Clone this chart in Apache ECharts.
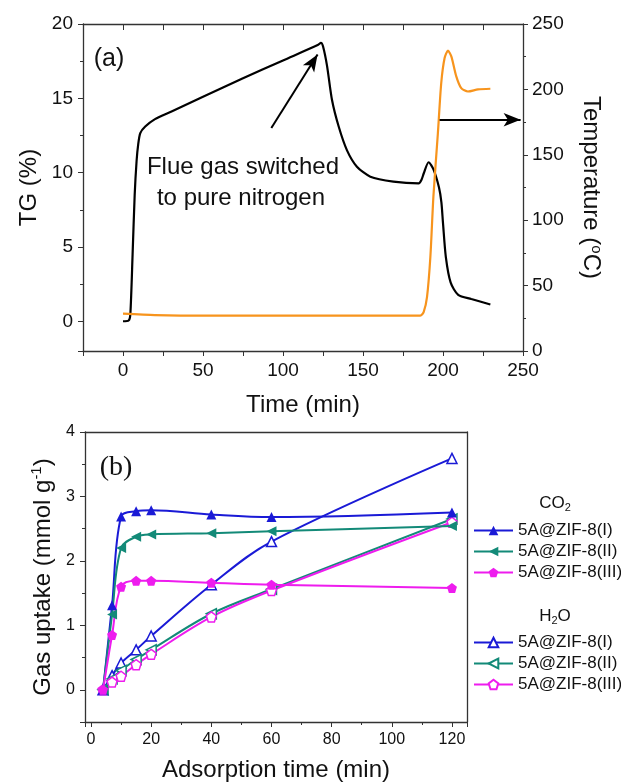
<!DOCTYPE html>
<html>
<head>
<meta charset="utf-8">
<title>TG and gas uptake</title>
<script src="https://cdn.jsdelivr.net/npm/echarts@6/dist/echarts.min.js"></script>
<style>
  html, body { margin: 0; padding: 0; background: #fff; }
  #chart { width: 621px; height: 783px; }
</style>
</head>
<body>
<div id="chart"></div>
<script>
// ---- panel (a): TG trace (left axis) and temperature trace (right axis)
const tgTime = [0, 3.5, 4.6, 6, 7.3, 8.5, 9.5, 10.8, 13.9, 20, 30, 50, 75, 100,
  122, 123.7, 125, 127.5, 130.6, 134.8, 140, 146.2, 154.6, 169, 184.8, 186.5, 188, 191,
  194.1, 197.5, 199, 200, 201.8, 204.8, 209.5, 217.7, 229.6];
const tgValue = [0, 0.05, 0.5, 4.5, 8.5, 10.8, 11.9, 12.66, 13.1, 13.6, 14.1, 15.1, 16.35, 17.55,
  18.6, 18.74, 18.5, 17.2, 14.9, 13.1, 11.5, 10.4, 9.73, 9.4, 9.28, 9.5, 9.96, 10.7,
  10.2, 9.0, 8.0, 6.6, 4.3, 2.6, 1.78, 1.5, 1.13];

const tempTime = [0, 20, 50, 120, 185.8, 187.9, 190, 192.1, 194, 196.8, 198.9, 201, 203.1,
  205.2, 208.3, 211.4, 215.6, 221.9, 229.6];
const tempValue = [28.5, 27.5, 27, 27, 27, 29.7, 41.2, 71.9, 118, 166.5, 204.9, 224, 229.6,
  225.3, 210, 201, 198.4, 200, 200.5];

// annotation arrows, [start, end] in (time, TG) units
const arrowSwitch = [[92.7, 13.0], [121.6, 17.95]];
const arrowTemp = [[197.9, 13.56], [248.5, 13.56]];

// ---- panel (b): adsorption uptake
const adsTime = [4, 7, 10, 15, 20, 40, 60, 120];
const sampleNames = ['5A@ZIF-8(I)', '5A@ZIF-8(II)', '5A@ZIF-8(III)'];
const co2I = [0, 1.31, 2.69, 2.77, 2.785, 2.72, 2.68, 2.75];
const co2II = [0, 1.17, 2.2, 2.375, 2.41, 2.43, 2.46, 2.54];
const co2III = [0, 0.85, 1.6, 1.69, 1.69, 1.66, 1.63, 1.58];
const h2oI = [0, 0.22, 0.415, 0.62, 0.835, 1.63, 2.3, 3.59];
const h2oII = [0, 0.17, 0.3, 0.47, 0.62, 1.18, 1.56, 2.65];
const h2oIII = [0, 0.12, 0.21, 0.39, 0.55, 1.13, 1.54, 2.6];

const FONT = 'Liberation Sans';
const AXIS_COLOR = '#333';
const BLUE = '#1a1ad6';
const GREEN = '#138a78';
const MAGENTA = '#ee1cee';
const ORANGE = '#f7941d';
const PENTAGON = 'path://M0,-10L9.51,-3.09L5.88,8.09L-5.88,8.09L-9.51,-3.09Z';

const pair = (xs, ys) => xs.map((x, i) => [x, ys[i]]);

const chart = echarts.init(document.getElementById('chart'), null, { renderer: 'canvas' });

function frameAxis(gridIndex, position) {
  return {
    type: 'value',
    gridIndex: gridIndex,
    position: position,
    axisLine: { show: true, onZero: false, lineStyle: { color: AXIS_COLOR, width: 1.3 } },
    axisTick: { show: false },
    axisLabel: { show: false },
    splitLine: { show: false }
  };
}

function baseAxis(extra) {
  return Object.assign({
    type: 'value',
    axisLine: { show: true, onZero: false, lineStyle: { color: AXIS_COLOR, width: 1.3 } },
    splitLine: { show: false },
    nameLocation: 'middle',
    nameTextStyle: { fontFamily: FONT, fontSize: 24, color: '#111' }
  }, extra);
}

function uptakeSeries(group, idx, values, color, symbol, rotate, open) {
  return {
    name: group + '|' + sampleNames[idx],
    type: 'line',
    xAxisIndex: 2,
    yAxisIndex: 2,
    data: pair(adsTime, values),
    smooth: 0.35,
    symbol: symbol,
    symbolRotate: rotate,
    symbolSize: 10,
    lineStyle: { color: color, width: 2 },
    itemStyle: open
      ? { color: '#fff', borderColor: color, borderWidth: 1.5 }
      : { color: color },
    z: open ? 3 : 4
  };
}

const option = {
  animation: false,
  backgroundColor: '#fff',
  textStyle: { fontFamily: FONT },
  grid: [
    { left: 83, top: 24, width: 440, height: 327 },
    { left: 85, top: 432, width: 382, height: 293 }
  ],
  xAxis: [
    baseAxis({
      gridIndex: 0, position: 'bottom', min: -25, max: 250, interval: 25,
      name: 'Time (min)', nameGap: 42,
      axisTick: { show: true, inside: false, length: 5, lineStyle: { color: AXIS_COLOR } },
      axisLabel: {
        fontSize: 19, color: '#111', margin: 10,
        formatter: v => (v >= 0 && v % 50 === 0) ? String(v) : ''
      }
    }),
    baseAxis({
      gridIndex: 0, position: 'top', min: -25, max: 250, interval: 25,
      axisTick: { show: true, inside: true, length: 6, lineStyle: { color: AXIS_COLOR } },
      axisLabel: { show: false }
    }),
    baseAxis({
      gridIndex: 1, position: 'bottom', min: -2, max: 125, splitNumber: 6,
      name: 'Adsorption time (min)', nameGap: 36,
      axisTick: { show: true, length: 5, lineStyle: { color: AXIS_COLOR } },
      minorTick: { show: true, splitNumber: 2, length: 3, lineStyle: { color: AXIS_COLOR } },
      axisLabel: { fontSize: 16, color: '#111', margin: 10, showMinLabel: false, showMaxLabel: false }
    }),
    frameAxis(1, 'top')
  ],
  yAxis: [
    baseAxis({
      gridIndex: 0, position: 'left', min: -2, max: 20, splitNumber: 5,
      name: 'TG (%)', nameGap: 42,
      axisTick: { show: true, length: 5, lineStyle: { color: AXIS_COLOR } },
      minorTick: { show: true, splitNumber: 2, length: 3, lineStyle: { color: AXIS_COLOR } },
      axisLabel: { fontSize: 19, color: '#111', margin: 10, showMinLabel: false }
    }),
    baseAxis({
      gridIndex: 0, position: 'right', min: 0, max: 250, interval: 50,
      name: 'Temperature ({sup|o}C)', nameGap: 54, nameRotate: -90,
      nameTextStyle: {
        fontFamily: FONT, fontSize: 24, color: '#111',
        rich: { sup: { fontFamily: FONT, fontSize: 15, color: '#111', padding: [0, 0, 12, 0] } }
      },
      axisTick: { show: true, length: 5, lineStyle: { color: AXIS_COLOR } },
      minorTick: { show: true, splitNumber: 2, length: 3, lineStyle: { color: AXIS_COLOR } },
      axisLabel: { fontSize: 19, color: '#111', margin: 9 }
    }),
    baseAxis({
      gridIndex: 1, position: 'left', min: -0.5, max: 4, splitNumber: 5,
      name: 'Gas uptake (mmol g{sup|-1})', nameGap: 28,
      nameTextStyle: {
        fontFamily: FONT, fontSize: 24, color: '#111',
        rich: { sup: { fontFamily: FONT, fontSize: 15, color: '#111', padding: [0, 0, 12, 0] } }
      },
      axisTick: { show: true, length: 5, lineStyle: { color: AXIS_COLOR } },
      minorTick: { show: true, splitNumber: 2, length: 3, lineStyle: { color: AXIS_COLOR } },
      axisLabel: { fontSize: 16, color: '#111', margin: 10, showMinLabel: false }
    }),
    frameAxis(1, 'right')
  ],
  legend: [
    {
      orient: 'vertical', left: 468, top: 517, itemWidth: 39, itemHeight: 12, itemGap: 4,
      selectedMode: false,
      data: sampleNames.map(n => 'CO2|' + n),
      formatter: n => n.split('|')[1],
      textStyle: { fontFamily: FONT, fontSize: 17, color: '#111' }
    },
    {
      orient: 'vertical', left: 468, top: 629, itemWidth: 39, itemHeight: 12, itemGap: 4,
      selectedMode: false,
      data: sampleNames.map(n => 'H2O|' + n),
      formatter: n => n.split('|')[1],
      textStyle: { fontFamily: FONT, fontSize: 17, color: '#111' }
    }
  ],
  graphic: [
    { type: 'text', x: 109, y: 59, style: { text: '(a)', font: '25px "Liberation Sans"', fill: '#111', align: 'center', verticalAlign: 'middle', textAlign: 'center', textVerticalAlign: 'middle' } },
    { type: 'text', x: 243, y: 167, style: { text: 'Flue gas switched', font: '24px "Liberation Sans"', fill: '#111', align: 'center', verticalAlign: 'middle', textAlign: 'center', textVerticalAlign: 'middle' } },
    { type: 'text', x: 241, y: 198, style: { text: 'to pure nitrogen', font: '24px "Liberation Sans"', fill: '#111', align: 'center', verticalAlign: 'middle', textAlign: 'center', textVerticalAlign: 'middle' } },
    { type: 'text', x: 116, y: 468, style: { text: '(b)', font: '28px "Liberation Serif"', fill: '#111', align: 'center', verticalAlign: 'middle', textAlign: 'center', textVerticalAlign: 'middle' } },
    { type: 'text', x: 555, y: 503, style: { text: 'CO{sub|2}', font: '17px "Liberation Sans"', fill: '#111', align: 'center', verticalAlign: 'middle', textAlign: 'center', textVerticalAlign: 'middle',
      rich: { sub: { fontFamily: FONT, fontSize: 11, fill: '#111', padding: [10, 0, 0, 0] } } } },
    { type: 'text', x: 555, y: 616, style: { text: 'H{sub|2}O', font: '17px "Liberation Sans"', fill: '#111', align: 'center', verticalAlign: 'middle', textAlign: 'center', textVerticalAlign: 'middle',
      rich: { sub: { fontFamily: FONT, fontSize: 11, fill: '#111', padding: [10, 0, 0, 0] } } } }
  ],
  series: [
    {
      name: 'TG',
      type: 'line',
      xAxisIndex: 0,
      yAxisIndex: 0,
      data: pair(tgTime, tgValue),
      showSymbol: false,
      smooth: 0.25,
      lineStyle: { color: '#000', width: 2.2 },
      markLine: {
        silent: true,
        animation: false,
        label: { show: false },
        lineStyle: { color: '#000', width: 2, type: 'solid' },
        data: [
          [{ coord: arrowSwitch[0], symbol: 'none' }, { coord: arrowSwitch[1], symbol: 'arrow', symbolSize: [10, 17] }],
          [{ coord: arrowTemp[0], symbol: 'none' }, { coord: arrowTemp[1], symbol: 'arrow', symbolSize: [10, 17] }]
        ]
      }
    },
    {
      name: 'Temperature',
      type: 'line',
      xAxisIndex: 0,
      yAxisIndex: 1,
      data: pair(tempTime, tempValue),
      showSymbol: false,
      smooth: 0.25,
      lineStyle: { color: ORANGE, width: 2.2 }
    },
    uptakeSeries('CO2', 0, co2I, BLUE, 'triangle', 0, false),
    uptakeSeries('CO2', 1, co2II, GREEN, 'triangle', 90, false),
    uptakeSeries('CO2', 2, co2III, MAGENTA, PENTAGON, 0, false),
    uptakeSeries('H2O', 0, h2oI, BLUE, 'triangle', 0, true),
    uptakeSeries('H2O', 1, h2oII, GREEN, 'triangle', 90, true),
    uptakeSeries('H2O', 2, h2oIII, MAGENTA, PENTAGON, 0, true)
  ]
};

chart.setOption(option);
</script>
</body>
</html>
